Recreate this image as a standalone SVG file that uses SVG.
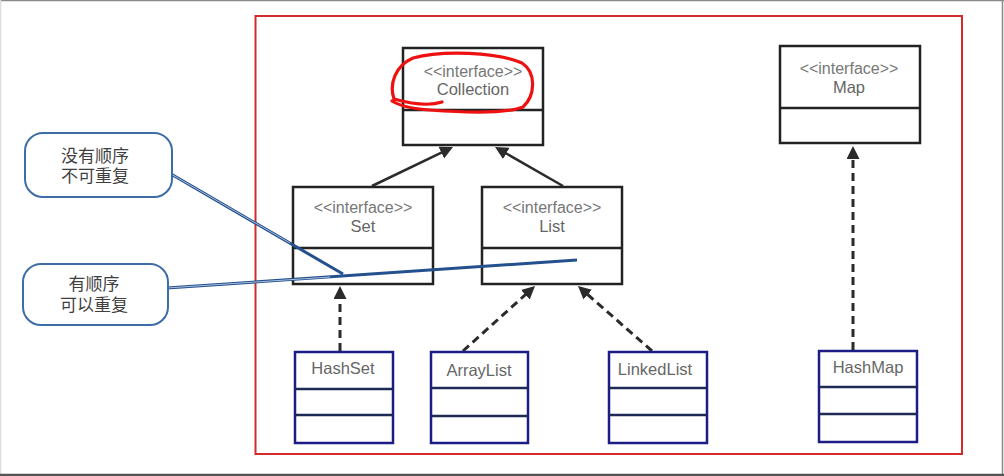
<svg xmlns="http://www.w3.org/2000/svg" width="1004" height="476" viewBox="0 0 1004 476">
  <defs>
    <style>
      .iface { fill: #ffffff; stroke: #222222; stroke-width: 2.5; }
      .cls { fill: #ffffff; stroke: #1c1c86; stroke-width: 2.5; }
      .div { stroke: #1e2a55; stroke-width: 2.5; }
      .idiv { stroke: #222222; stroke-width: 2.5; }
      .st { font-family: "Liberation Sans", Arial, sans-serif; font-size: 16px; fill: #777777; text-anchor: middle; }
      .nm { font-family: "Liberation Sans", Arial, sans-serif; font-size: 16.5px; fill: #666666; text-anchor: middle; }
      .cj { font-family: "Liberation Sans", "Noto Sans CJK SC", sans-serif; font-size: 17px; fill: #3f3f3f; text-anchor: middle; }
      .solid { stroke: #2b2b2b; stroke-width: 2.5; fill: none; marker-end: url(#ah); }
      .dash { stroke: #2b2b2b; stroke-width: 3; fill: none; stroke-dasharray: 8 5; marker-end: url(#ah); }
      .call { fill: #ffffff; stroke: #3d6da6; stroke-width: 2; }
      .lnk { stroke: #24508e; stroke-width: 3; fill: none; }
      .lnki { stroke: #b8cce6; stroke-width: 0.9; fill: none; }
    </style>
    <marker id="ah" markerUnits="userSpaceOnUse" markerWidth="14" markerHeight="14" refX="3" refY="6.5" orient="auto">
      <path d="M0,0 L13,6.5 L0,13 z" fill="#2b2b2b"/>
    </marker>
    <linearGradient id="cg" x1="0" y1="0" x2="0" y2="1">
      <stop offset="0" stop-color="#ffffff"/>
      <stop offset="1" stop-color="#f2f5fa"/>
    </linearGradient>
  </defs>

  <!-- screen border -->
  <rect x="0" y="0" width="1004" height="476" fill="#ffffff"/>
  <line x1="0" y1="0.5" x2="1004" y2="0.5" stroke="#8a8a8a" stroke-width="1.5"/>
  <line x1="0.5" y1="0" x2="0.5" y2="476" stroke="#dddddd" stroke-width="1.5"/>
  <line x1="1002.5" y1="0" x2="1002.5" y2="476" stroke="#8a8a8a" stroke-width="1.5"/>
  <line x1="0" y1="475" x2="1004" y2="475" stroke="#555555" stroke-width="2.5"/>

  <!-- red frame -->
  <rect x="255.5" y="16" width="706.5" height="438" fill="none" stroke="#d42a2a" stroke-width="2"/>

  <!-- connectors -->
  <g id="connectors">
    <line class="solid" x1="372" y1="186" x2="444" y2="151.3"/>
    <line class="solid" x1="563" y1="186" x2="503.7" y2="152"/>
    <line class="dash" x1="340" y1="351" x2="340" y2="296"/>
    <line class="dash" x1="463" y1="351" x2="527.6" y2="292.7"/>
    <line class="dash" x1="652" y1="351" x2="585.5" y2="292.6"/>
    <line class="dash" x1="853" y1="350" x2="853" y2="156"/>
  </g>

  <g id="Collection">
    <rect class="iface" x="403" y="48" width="140" height="97"/>
    <line class="idiv" x1="403" y1="110" x2="543" y2="110"/>
    <text class="st" x="473" y="77">&lt;&lt;interface&gt;&gt;</text>
    <text class="nm" x="473" y="95">Collection</text>
  </g>

  <g id="Map">
    <rect class="iface" x="780" y="46" width="140" height="97"/>
    <line class="idiv" x1="780" y1="108" x2="920" y2="108"/>
    <text class="st" x="849" y="74">&lt;&lt;interface&gt;&gt;</text>
    <text class="nm" x="849" y="93">Map</text>
  </g>

  <g id="Set">
    <rect class="iface" x="293" y="187" width="140" height="97"/>
    <line class="idiv" x1="293" y1="248" x2="433" y2="248"/>
    <text class="st" x="363" y="213">&lt;&lt;interface&gt;&gt;</text>
    <text class="nm" x="363" y="232">Set</text>
  </g>

  <g id="List">
    <rect class="iface" x="482" y="187" width="140" height="97"/>
    <line class="idiv" x1="482" y1="248" x2="622" y2="248"/>
    <text class="st" x="552" y="213">&lt;&lt;interface&gt;&gt;</text>
    <text class="nm" x="552" y="232">List</text>
  </g>

  <g id="HashSet">
    <rect class="cls" x="295" y="352" width="98" height="91"/>
    <line class="div" x1="295" y1="389" x2="393" y2="389"/>
    <line class="div" x1="295" y1="415" x2="393" y2="415"/>
    <text class="nm" x="343" y="374">HashSet</text>
  </g>

  <g id="ArrayList">
    <rect class="cls" x="431" y="352" width="97" height="91"/>
    <line class="div" x1="431" y1="388" x2="528" y2="388"/>
    <line class="div" x1="431" y1="416" x2="528" y2="416"/>
    <text class="nm" x="479" y="376">ArrayList</text>
  </g>

  <g id="LinkedList">
    <rect class="cls" x="609" y="352" width="98" height="91"/>
    <line class="div" x1="609" y1="388" x2="707" y2="388"/>
    <line class="div" x1="609" y1="415" x2="707" y2="415"/>
    <text class="nm" x="655" y="375">LinkedList</text>
  </g>

  <g id="HashMap">
    <rect class="cls" x="819" y="351" width="98" height="91"/>
    <line class="div" x1="819" y1="387" x2="917" y2="387"/>
    <line class="div" x1="819" y1="414" x2="917" y2="414"/>
    <text class="nm" x="868" y="373">HashMap</text>
  </g>

  <!-- callout links -->
  <g id="callout-links">
    <line class="lnk" x1="171" y1="174" x2="343" y2="274"/>
    <line class="lnki" x1="171" y1="174" x2="290" y2="243"/>
    <line class="lnk" x1="167" y1="288" x2="577" y2="260"/>
    <line class="lnki" x1="167" y1="288" x2="330" y2="277"/>
  </g>

  <g id="callout-unordered">
    <rect class="call" x="25" y="133" width="147" height="64" rx="18" fill="url(#cg)"/>
    <text class="cj" x="95" y="162">没有顺序</text>
    <text class="cj" x="95" y="182">不可重复</text>
  </g>

  <g id="callout-ordered">
    <rect class="call" x="23" y="264" width="145" height="61" rx="18" fill="url(#cg)"/>
    <text class="cj" x="94" y="290">有顺序</text>
    <text class="cj" x="94" y="311">可以重复</text>
  </g>

  <!-- hand-drawn red mark -->
  <path d="M442,102 C430,106 412,104 394,99 C389,84 395,66 413,58 C442,50 497,52 522,63 C537,73 535,96 523,107 C505,114 470,113 430,110 C415,109 400,106 392,101"
        fill="none" stroke="#ee1111" stroke-width="3.2" stroke-linecap="round" stroke-linejoin="round"/>
</svg>
